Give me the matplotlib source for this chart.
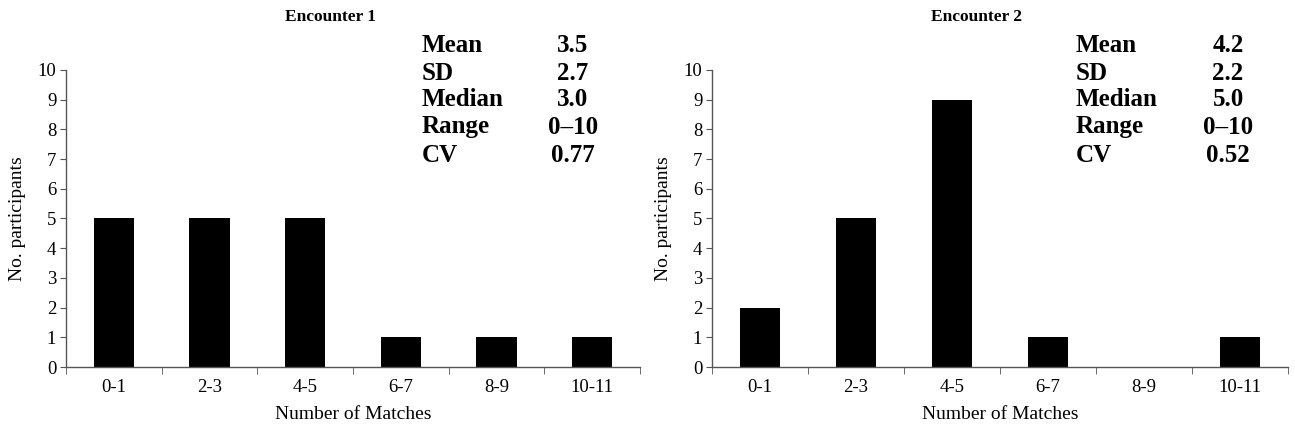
import matplotlib
matplotlib.use('Agg')
import matplotlib.pyplot as plt

plt.rcParams['font.family'] = ['Liberation Serif', 'DejaVu Serif']

CATEGORIES = ['0-1', '2-3', '4-5', '6-7', '8-9', '10-11']
ENCOUNTER_1 = [5, 5, 5, 1, 1, 1]
ENCOUNTER_2 = [2, 5, 9, 1, 0, 1]

STAT_NAMES = ['Mean', 'SD', 'Median', 'Range', 'CV']
STATS_1 = ['3.5', '2.7', '3.0', '0\u201310', '0.77']
STATS_2 = ['4.2', '2.2', '5.0', '0\u201310', '0.52']

W, H = 1295, 437
AXIS_COLOR = '#555555'


def draw_panel(fig, rect, values, title, stats, stat_x):
    ax = fig.add_axes(rect)
    x = range(len(CATEGORIES))
    ax.bar(x, values, width=0.42, color='black')
    ax.set_xlim(-0.5, len(CATEGORIES) - 0.5)
    ax.set_ylim(0, 10)
    ax.set_yticks(range(0, 11))
    ax.set_xticks(list(x))
    ax.set_xticklabels(CATEGORIES)
    ax.set_xticks([i - 0.5 for i in range(len(CATEGORIES) + 1)], minor=True)

    for side in ('top', 'right'):
        ax.spines[side].set_visible(False)
    for side in ('left', 'bottom'):
        ax.spines[side].set_color(AXIS_COLOR)
        ax.spines[side].set_linewidth(1.0)

    ax.tick_params(axis='x', which='major', length=0, pad=9, labelsize=13.5)
    ax.tick_params(axis='x', which='minor', length=5, color=AXIS_COLOR, direction='out')
    ax.tick_params(axis='y', length=4, color=AXIS_COLOR, labelsize=13.5, pad=3)

    ax.set_xlabel('Number of Matches', fontsize=14, labelpad=7)
    ax.set_ylabel('No. participants', fontsize=14, labelpad=8)

    # title and summary table in figure pixel coordinates
    cx = rect[0] + rect[2] * 0.46
    fig.text(cx, 1 - 17 / H, title, ha='center', va='center',
             fontsize=12.5, fontweight='bold')
    rows_y = [46, 74, 100, 127, 155]
    for name, val, yy in zip(STAT_NAMES, stats, rows_y):
        fig.text(stat_x[0] / W, 1 - yy / H, name, ha='left', va='center',
                 fontsize=18, fontweight='bold')
        fig.text(stat_x[1] / W, 1 - yy / H, val, ha='center', va='center',
                 fontsize=18, fontweight='bold')
    return ax


fig = plt.figure(figsize=(W / 100, H / 100), dpi=100)
fig.patch.set_facecolor('white')

bottom = 1 - 367 / H
height = (367 - 70) / H
draw_panel(fig, [66 / W, bottom, (640 - 66) / W, height], ENCOUNTER_1,
           'Encounter 1', STATS_1, (422, 573))
draw_panel(fig, [712 / W, bottom, (1288 - 712) / W, height], ENCOUNTER_2,
           'Encounter 2', STATS_2, (1076, 1228))

fig.savefig('out.png', dpi=100)
